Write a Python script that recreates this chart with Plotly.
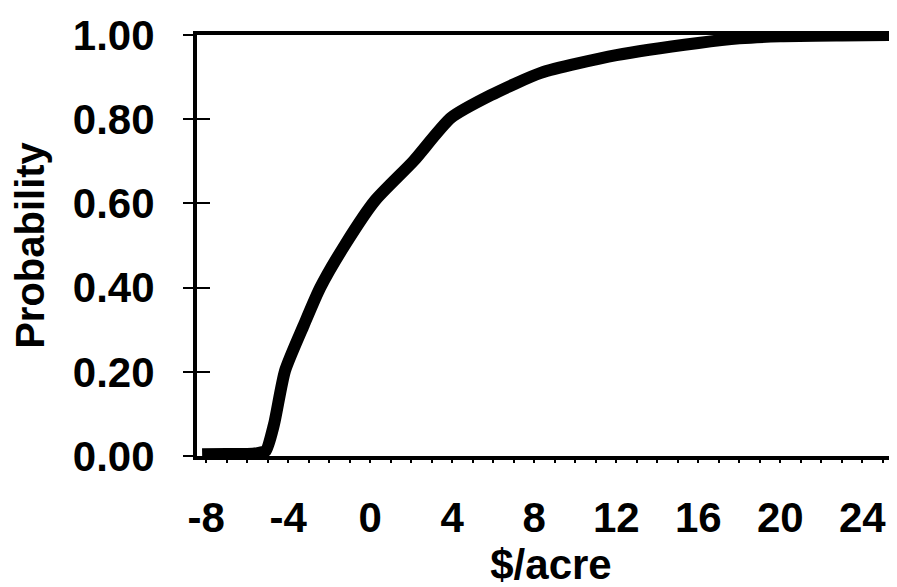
import plotly.graph_objects as go

# Data (cumulative probability vs $/acre)
dollars_per_acre = [-8.2, -7.0, -6.0, -5.5, -5.1, -4.7, -4.16, -3.24, -2.45, -1.24,
                    0.22, 2.1, 3.93, 5.88, 8.32, 12.0, 16.0, 18.0, 20.0, 23.0, 26.1]
probability = [0.004, 0.005, 0.005, 0.007, 0.012, 0.074, 0.202, 0.311, 0.399, 0.501,
               0.606, 0.70, 0.803, 0.857, 0.910, 0.952, 0.981, 0.992, 0.997, 0.999, 1.0]

x_ticks = [-8, -4, 0, 4, 8, 12, 16, 20, 24]
y_ticks = [0.0, 0.2, 0.4, 0.6, 0.8, 1.0]
y_tick_labels = ["0.00", "0.20", "0.40", "0.60", "0.80", "1.00"]

FONT = "Liberation Sans, Arial, sans-serif"

fig = go.Figure()
fig.add_trace(go.Scatter(
    x=dollars_per_acre, y=probability, mode="lines",
    line=dict(color="black", width=12, shape="spline", smoothing=0.6),
    hoverinfo="skip", showlegend=False,
))
# invisible trace for the overlaid y-axis (inner tick marks)
fig.add_trace(go.Scatter(x=[dollars_per_acre[0]], y=[probability[0]], yaxis="y2",
                         mode="markers", marker=dict(opacity=0), showlegend=False,
                         hoverinfo="skip"))

fig.update_layout(
    width=897, height=587,
    margin=dict(l=189, r=0, t=27, b=139, autoexpand=False),
    paper_bgcolor="white", plot_bgcolor="white",
    font=dict(family=FONT, color="black"),
    xaxis=dict(
        range=[-8.45, 26.08], automargin=False,
        tickvals=x_ticks, ticktext=[str(v) for v in x_ticks],
        tickfont=dict(size=42, family=FONT, weight="bold"),
        ticks="outside", ticklen=3, tickwidth=2, tickcolor="black",
        minor=dict(dtick=1, ticks="outside", ticklen=3, tickwidth=2, tickcolor="black"),
        ticklabelstandoff=19,
        showline=True, linecolor="black", linewidth=4, mirror=True,
        showgrid=False, zeroline=False,
        title=dict(text="$/acre", font=dict(size=42, family=FONT, weight="bold"), standoff=10),
    ),
    yaxis=dict(
        range=[0, 1], automargin=False,
        tickvals=y_ticks, ticktext=y_tick_labels,
        tickfont=dict(size=42, family=FONT, weight="bold"),
        ticks="outside", ticklen=10, tickwidth=2, tickcolor="black",
        ticklabelstandoff=20,
        showline=True, linecolor="black", linewidth=4,
        showgrid=False, zeroline=False,
        title=dict(text="Probability", font=dict(size=40, family=FONT, weight="bold"), standoff=22),
    ),
    yaxis2=dict(
        range=[0, 1], overlaying="y", side="left", automargin=False,
        tickvals=y_ticks, showticklabels=False,
        ticks="inside", ticklen=13, tickwidth=2, tickcolor="black",
        showline=False, showgrid=False, zeroline=False,
    ),
)

fig.write_html("out.html")
